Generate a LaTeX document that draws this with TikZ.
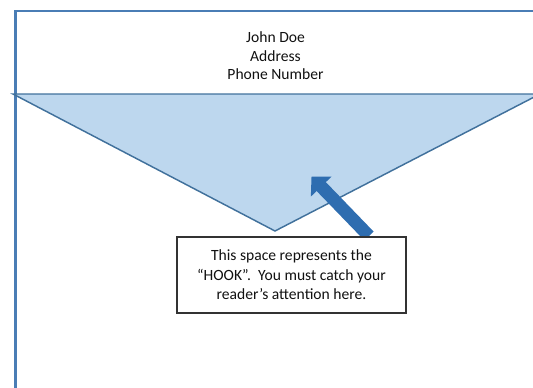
\documentclass[tikz,border=0pt]{standalone}
\usepackage{fontspec}
\setmainfont{Carlito}
\usetikzlibrary{arrows.meta}
\definecolor{framecol}{HTML}{4A7DB5}
\definecolor{trifill}{HTML}{BDD7EE}
\definecolor{tristroke}{HTML}{41719C}
\definecolor{arrowcol}{HTML}{2E6DB0}
\definecolor{txt}{HTML}{111111}
\tikzset{
  frameline/.style={draw=framecol, line width=1.6pt},
  hooktri/.style={fill=trifill, draw=tristroke, line width=1.1pt, line join=miter},
  hookarrow/.style={draw=arrowcol, line width=9.6pt,
    -{Triangle[width=21pt,length=10.5pt]}},
  notebox/.style={draw=black!80, line width=0.8pt, fill=white, minimum width=171.75pt,
    minimum height=57pt, align=center, text=txt, inner sep=0pt,
    font=\fontsize{11.7}{14.6}\selectfont},
  headtext/.style={align=center, text=txt, font=\fontsize{11.7}{13.9}\selectfont}
}
\begin{document}
\begin{tikzpicture}[x=0.75pt, y=-0.75pt]
\useasboundingbox (0,0) rectangle (533,387);
% frame
\coordinate (fbl) at (15.5,390);
\coordinate (ftl) at (15.5,11);
\coordinate (ftr) at (536,11);
\draw[frameline] (fbl) -- (ftl) -- (ftr);
% triangle
\coordinate (tl) at (13,94);
\coordinate (tr) at (540,94);
\coordinate (apex) at (275,231);
\draw[hooktri] (tl) -- (tr) -- (apex) -- cycle;
% header text
\node[headtext] (head) at (275.5,56) {John Doe\\Address\\Phone Number};
% arrow
\coordinate (tail) at (369,236);
\coordinate (tip) at (311.5,176.5);
\draw[hookarrow] (tail) -- (tip);
% note box
\node[notebox] (note) at (291.5,275) {This space represents the\\
``HOOK''.\ \ You must catch your\\ reader's attention here.};
\end{tikzpicture}
\end{document}
